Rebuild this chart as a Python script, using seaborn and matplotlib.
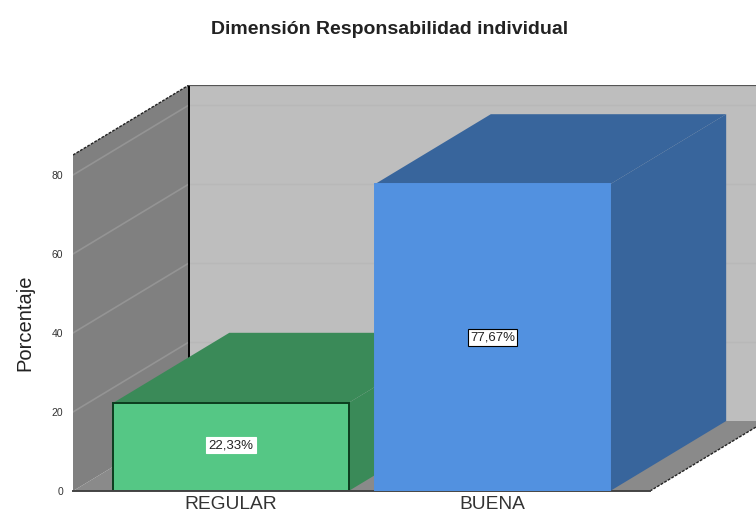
# -*- coding: utf-8 -*-
import pandas as pd
import seaborn as sns
import matplotlib
matplotlib.use('Agg')
import matplotlib.pyplot as plt
from matplotlib.patches import Polygon

### data
categories = ['REGULAR', 'BUENA']
percentages = [22.33, 77.67]
value_labels = ['22,33%', '77,67%']
y_ticks = [0, 20, 40, 60, 80]

front_colors = ['#55C785', '#5291E0']
top_colors = ['#3A8A58', '#38659C']
side_colors = ['#3A8A58', '#38659C']
edge_colors = ['#0B3D1E', '#5291E0']

sns.set_style('white')
plt.rcParams['font.family'] = ['Liberation Sans', 'DejaVu Sans']

fig = plt.figure(figsize = (7.56, 5.17), dpi = 100)
ax = fig.add_axes([73 / 756, 26 / 517, 683 / 756, 406 / 517])

df = pd.DataFrame({'cat': categories, 'pct': percentages})
sns.barplot(data = df, x = 'cat', y = 'pct', hue = 'cat', palette = front_colors,
  width = 0.9, saturation = 1, legend = False, ax = ax)

# scale of the axes: 261.5 px per category, 3.95 px per percent
ax.set_xlim(-158 / 261.5, 525 / 261.5)
ax.set_ylim(0, 406 / 3.95)
depth_x = 116 / 261.5
depth_y = 70 / 3.95
x_left = ax.get_xlim()[0]
x_right = ax.get_xlim()[1]
wall_top = ax.get_ylim()[1] - depth_y


def add_poly(points, color, zorder, edge = 'none', lw = 0):
  ax.add_patch(Polygon(points, closed = True, facecolor = color, edgecolor = edge, linewidth = lw, zorder = zorder))


### walls and floor
floor_right = x_left + 577 / 261.5
add_poly([(x_left + depth_x, depth_y), (x_right + 0.2, depth_y), (x_right + 0.2, wall_top + depth_y),
  (x_left + depth_x, wall_top + depth_y)], '#BEBEBE', 0.1)
add_poly([(x_left, 0), (floor_right, 0), (floor_right + depth_x, depth_y), (x_left + depth_x, depth_y)], '#8A8A8A', 0.2)
add_poly([(x_left, 0), (x_left, wall_top), (x_left + depth_x, wall_top + depth_y), (x_left + depth_x, depth_y)], '#808080', 0.3)

ax.plot([x_left, x_left + depth_x], [wall_top, wall_top + depth_y], color = '#222222', lw = 1, ls = (0, (2, 1)), zorder = 0.4)
ax.plot([x_left + depth_x, x_left + depth_x], [depth_y, wall_top + depth_y], color = 'black', lw = 1.4, zorder = 0.4)
ax.plot([x_left + depth_x, x_right], [wall_top + depth_y, wall_top + depth_y], color = '#555555', lw = 1.6, zorder = 0.4)
ax.plot([floor_right, floor_right + depth_x], [0, depth_y], color = '#222222', lw = 1, ls = (0, (2, 1)), zorder = 0.4)

### gridlines on both walls
for tick in y_ticks[1:]:
  ax.plot([x_left, x_left + depth_x], [tick, tick + depth_y], color = '#949494', lw = 1.2, zorder = 0.35)
  ax.plot([x_left + depth_x, x_right], [tick + depth_y, tick + depth_y], color = '#B8B8B8', lw = 1, zorder = 0.15)

### bars: front face from seaborn, depth faces from its geometry
for i, bar in enumerate(ax.patches[:len(categories)]):
  x0 = bar.get_x()
  x1 = x0 + bar.get_width()
  h = bar.get_height()
  z = 1 + i * 2
  add_poly([(x0, h), (x1, h), (x1 + depth_x, h + depth_y), (x0 + depth_x, h + depth_y)], top_colors[i], z)
  add_poly([(x1, 0), (x1, h), (x1 + depth_x, h + depth_y), (x1 + depth_x, depth_y)], side_colors[i], z)
  bar.set_zorder(z + 0.5)
  bar.set_edgecolor(edge_colors[i])
  bar.set_linewidth(1.4)
  edge_box = 'black' if i == 1 else 'white'
  ax.text(x0 + bar.get_width() / 2, h * 0.5 if i == 1 else h * 0.52, value_labels[i], ha = 'center', va = 'center', fontsize = 9.5,
    color = '#222222', zorder = z + 1,
    bbox = dict(facecolor = 'white', edgecolor = edge_box, linewidth = 0.8, pad = 1.5))

### axes text
ax.set_xlabel('')
ax.set_ylabel('Porcentaje', fontsize = 14.5, color = '#222222')
ax.yaxis.set_label_coords(-0.056, 0.415)
ax.set_yticks(y_ticks)
ax.set_yticklabels([str(t) for t in y_ticks], fontsize = 7.5, color = '#333333')
ax.tick_params(axis = 'y', length = 0, pad = 7)
ax.tick_params(axis = 'x', length = 0, pad = 3.5, labelsize = 13.8, labelcolor = '#333333')

sns.despine(ax = ax, left = True, right = True, top = True)
ax.spines['bottom'].set_bounds(x_left, floor_right)
ax.spines['bottom'].set_color('#444444')
ax.spines['bottom'].set_linewidth(1.4)

fig.text(390 / 756, 1 - 29 / 517, 'Dimensión Responsabilidad individual', ha = 'center', va = 'center',
  fontsize = 14, fontweight = 'bold', color = '#222222')

fig.savefig('out.png', dpi = 100)
